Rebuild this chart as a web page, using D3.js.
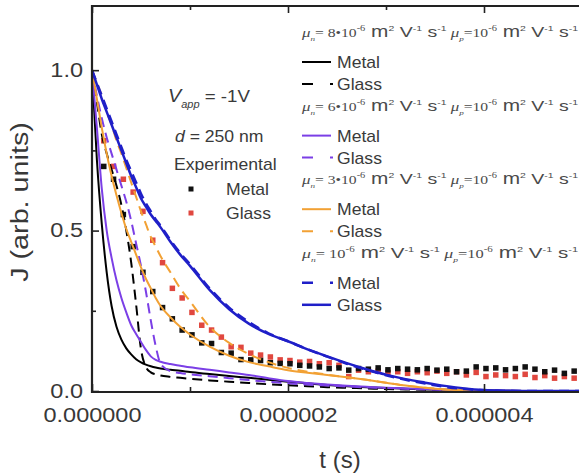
<!DOCTYPE html>
<html>
<head>
<meta charset="utf-8">
<script src="https://cdn.jsdelivr.net/npm/d3@7"></script>
<style>
  html, body { margin: 0; padding: 0; background: #fff; }
  svg { display: block; }
</style>
</head>
<body>
<svg id="chart" width="579" height="474"></svg>
<script>
// Time grid of the simulated transients (µs)
const tModel = [0, 0.05, 0.1, 0.15, 0.2, 0.25, 0.3, 0.35, 0.4, 0.45, 0.5, 0.55, 0.6, 0.65, 0.7, 0.8, 0.9, 1.0,
  1.2, 1.4, 1.6, 1.8, 2.0, 2.2, 2.4, 2.6, 2.8, 3.0, 3.2, 3.4, 3.6, 3.8, 4.0, 4.2, 4.5, 5.0];

// µn = 8e-6
const jMetal8 = [1.0, 0.72, 0.52, 0.37, 0.265, 0.2, 0.16, 0.133, 0.114, 0.099, 0.089, 0.082, 0.077, 0.073, 0.07, 0.066, 0.063, 0.059,
  0.053, 0.047, 0.041, 0.035, 0.029, 0.024, 0.019, 0.015, 0.012, 0.009, 0.007, 0.005, 0.004, 0.003, 0.002, 0.001, 0, 0];
const jGlass8 = [1.0, 0.9, 0.8, 0.74, 0.69, 0.64, 0.58, 0.5, 0.4, 0.27, 0.13, 0.075, 0.058, 0.052, 0.048, 0.044, 0.041, 0.038,
  0.033, 0.029, 0.025, 0.021, 0.018, 0.015, 0.012, 0.01, 0.008, 0.006, 0.005, 0.004, 0.003, 0.002, 0.001, 0, 0, 0];
// µn = 6e-6
const jMetal6 = [1.0, 0.82, 0.63, 0.5, 0.415, 0.345, 0.29, 0.245, 0.205, 0.178, 0.153, 0.128, 0.108, 0.097, 0.091, 0.084, 0.079, 0.074,
  0.066, 0.058, 0.05, 0.04, 0.031, 0.025, 0.02, 0.016, 0.013, 0.01, 0.008, 0.006, 0.004, 0.003, 0.002, 0.001, 0, 0];
const jGlass6 = [1.0, 0.92, 0.85, 0.79, 0.74, 0.69, 0.64, 0.59, 0.53, 0.46, 0.39, 0.31, 0.22, 0.14, 0.085, 0.062, 0.056, 0.052,
  0.046, 0.04, 0.034, 0.029, 0.024, 0.02, 0.017, 0.014, 0.011, 0.009, 0.007, 0.005, 0.004, 0.003, 0.002, 0.001, 0, 0];
// µn = 3e-6
const jMetal3 = [1.0, 0.91, 0.82, 0.74, 0.67, 0.61, 0.555, 0.505, 0.465, 0.425, 0.385, 0.35, 0.32, 0.29, 0.265, 0.23, 0.2, 0.176,
  0.138, 0.11, 0.09, 0.077, 0.065, 0.057, 0.05, 0.043, 0.035, 0.026, 0.017, 0.01, 0.005, 0.002, 0.001, 0, 0, 0];
const jGlass3 = [1.0, 0.96, 0.92, 0.87, 0.83, 0.78, 0.74, 0.695, 0.65, 0.605, 0.56, 0.52, 0.48, 0.45, 0.42, 0.37, 0.32, 0.28,
  0.2, 0.15, 0.115, 0.09, 0.072, 0.06, 0.051, 0.043, 0.035, 0.026, 0.017, 0.01, 0.005, 0.002, 0.001, 0, 0, 0];
// µn = 10^-6
const jMetal1 = [1.0, 0.96, 0.92, 0.88, 0.84, 0.8, 0.76, 0.72, 0.685, 0.65, 0.615, 0.585, 0.56, 0.535, 0.515, 0.47, 0.43, 0.395,
  0.32, 0.26, 0.215, 0.18, 0.155, 0.13, 0.107, 0.085, 0.066, 0.049, 0.035, 0.023, 0.013, 0.006, 0.002, 0, 0, 0];
const jGlass1 = [1.0, 0.955, 0.91, 0.87, 0.83, 0.79, 0.75, 0.71, 0.67, 0.635, 0.6, 0.575, 0.55, 0.53, 0.51, 0.465, 0.425, 0.39,
  0.315, 0.255, 0.21, 0.178, 0.155, 0.13, 0.108, 0.087, 0.068, 0.051, 0.037, 0.026, 0.016, 0.008, 0.003, 0.001, 0, 0];

// Measured transients (µs)
const tExp = [0.12, 0.22, 0.32, 0.42, 0.52, 0.62, 0.72, 0.82, 0.92, 1.02, 1.12, 1.22, 1.32, 1.42, 1.52, 1.62, 1.72, 1.82, 1.92,
  2.02, 2.12, 2.22, 2.32, 2.42, 2.52, 2.62, 2.72, 2.82, 2.92, 3.02, 3.12, 3.22, 3.32, 3.42, 3.52, 3.62, 3.72, 3.82, 3.92,
  4.02, 4.12, 4.22, 4.32, 4.42, 4.52, 4.62, 4.72, 4.82, 4.92];
const jExpMetal = [0.70, 0.66, 0.55, 0.45, 0.37, 0.31, 0.26, 0.225, 0.19, 0.175, 0.15, 0.148, 0.12, 0.118, 0.098, 0.097, 0.095, 0.088, 0.086,
  0.085, 0.08, 0.078, 0.075, 0.07, 0.072, 0.065, 0.07, 0.068, 0.072, 0.066, 0.07, 0.068, 0.066, 0.07, 0.065, 0.068, 0.06, 0.062, 0.075,
  0.07, 0.072, 0.066, 0.07, 0.075, 0.068, 0.06, 0.065, 0.055, 0.062];
const jExpGlass = [0.78, 0.70, 0.66, 0.62, 0.56, 0.47, 0.40, 0.32, 0.29, 0.245, 0.205, 0.19, 0.168, 0.138, 0.136, 0.118, 0.112, 0.106, 0.097,
  0.095, 0.09, 0.092, 0.085, 0.088, 0.08, 0.045, 0.065, 0.06, 0.062, 0.058, 0.06, 0.055, 0.06, 0.057, 0.062, 0.055, 0.06, 0.05, 0.058,
  0.045, 0.05, 0.048, 0.045, 0.052, 0.042, 0.048, 0.04, 0.045, 0.04];

const xMajor = [0, 2, 4];
const xMinor = [1, 3, 5];
const yMajor = [0, 0.5, 1.0];
const yMinor = [0.25, 0.75];

const colors = { c8: "#000000", c6: "#7b3fe6", c3: "#f2a134", c1: "#1f1fc8" };

const series = [
  { j: jMetal8, color: colors.c8, dash: null, w: 2 },
  { j: jGlass8, color: colors.c8, dash: "10,6", w: 2 },
  { j: jMetal6, color: colors.c6, dash: null, w: 2 },
  { j: jGlass6, color: colors.c6, dash: "10,6", w: 2 },
  { j: jMetal3, color: colors.c3, dash: null, w: 2 },
  { j: jGlass3, color: colors.c3, dash: "10,6", w: 2 },
  { j: jMetal1, color: colors.c1, dash: "10,6", w: 2.5 },
  { j: jGlass1, color: colors.c1, dash: null, w: 2.5 }
];

const legendGroups = [
  { n: "8•10", nExp: "-6", color: colors.c8, metalDashed: false },
  { n: "6•10", nExp: "-6", color: colors.c6, metalDashed: false },
  { n: "3•10", nExp: "-6", color: colors.c3, metalDashed: false },
  { n: "10", nExp: "-6", color: colors.c1, metalDashed: true }
];

const svg = d3.select("#chart");
const L = 92, R = 582, T = 6, B = 391;
const x = d3.scaleLinear().domain([0, 5]).range([L, R]);
const y = d3.scaleLinear().domain([0, 1.2]).range([B, T]);

const SANS = "'Liberation Sans', Arial, sans-serif";
const SERIF = "'Liberation Serif', 'Times New Roman', serif";

svg.append("rect").attr("width", 579).attr("height", 474).attr("fill", "#fff");

svg.append("defs").append("clipPath").attr("id", "plotclip")
  .append("rect").attr("x", L).attr("y", T).attr("width", R - L).attr("height", B - T + 2);

const plot = svg.append("g").attr("clip-path", "url(#plotclip)");

// experimental points
const sq = 5.5;
plot.append("g").selectAll("rect").data(tExp.map((t, i) => [t, jExpGlass[i]])).join("rect")
  .attr("x", d => x(d[0]) - sq / 2).attr("y", d => y(d[1]) - sq / 2)
  .attr("width", sq).attr("height", sq).attr("fill", "#e0473f");
plot.append("g").selectAll("rect").data(tExp.map((t, i) => [t, jExpMetal[i]])).join("rect")
  .attr("x", d => x(d[0]) - sq / 2).attr("y", d => y(d[1]) - sq / 2)
  .attr("width", sq).attr("height", sq).attr("fill", "#111");

// simulated curves
const line = d3.line().x(d => x(d[0])).y(d => y(d[1])).curve(d3.curveMonotoneX);
series.forEach(s => {
  plot.append("path")
    .attr("d", line(tModel.map((t, i) => [t, s.j[i]])))
    .attr("fill", "none").attr("stroke", s.color).attr("stroke-width", s.w)
    .attr("stroke-dasharray", s.dash);
});

// axes (ticks pointing inward, mirrored on top)
const axColor = "#222";
function styleAxis(g) {
  g.select(".domain").remove();
  g.selectAll(".tick line").attr("stroke", axColor).attr("stroke-width", 1.6);
}
const fmtX = d => (d * 1e-6).toFixed(6);

const xAxis = svg.append("g").attr("transform", `translate(0,${B})`)
  .call(d3.axisBottom(x).tickValues(xMajor).tickSize(-7).tickPadding(0).tickFormat(fmtX));
styleAxis(xAxis);
xAxis.selectAll(".tick text").attr("font-family", SANS).attr("font-size", 21).attr("fill", "#383838")
  .attr("y", 0).attr("dy", 0)
  .attr("transform", "translate(0,31) scale(1.12,1)");
svg.append("g").attr("transform", `translate(0,${B})`)
  .call(d3.axisBottom(x).tickValues(xMinor).tickSize(-4).tickFormat(""))
  .call(styleAxis);
svg.append("g").attr("transform", `translate(0,${T})`)
  .call(d3.axisTop(x).tickValues(xMajor).tickSize(-7).tickFormat(""))
  .call(styleAxis);
svg.append("g").attr("transform", `translate(0,${T})`)
  .call(d3.axisTop(x).tickValues(xMinor).tickSize(-4).tickFormat(""))
  .call(styleAxis);

const yAxis = svg.append("g").attr("transform", `translate(${L},0)`)
  .call(d3.axisLeft(y).tickValues(yMajor).tickSize(-7).tickPadding(0).tickFormat(d3.format(".1f")));
styleAxis(yAxis);
yAxis.selectAll(".tick text").attr("font-family", SANS).attr("font-size", 21).attr("fill", "#383838")
  .attr("x", 0).attr("dy", 0).attr("text-anchor", "end")
  .attr("transform", "translate(-9,6) scale(1.12,1)");
svg.append("g").attr("transform", `translate(${L},0)`)
  .call(d3.axisLeft(y).tickValues(yMinor).tickSize(-4).tickFormat(""))
  .call(styleAxis);

// frame
svg.append("path")
  .attr("d", `M${R},${T}H${L}V${B + 1}H${R}`)
  .attr("fill", "none").attr("stroke", axColor).attr("stroke-width", 2.2);

// axis titles
svg.append("text").attr("font-family", SANS).attr("font-size", 24).attr("fill", "#383838")
  .attr("text-anchor", "middle")
  .attr("transform", "translate(340,468)").text("t (s)");
svg.append("text").attr("font-family", SANS).attr("font-size", 23).attr("fill", "#383838")
  .attr("text-anchor", "middle")
  .attr("transform", "translate(28,202) rotate(-90) scale(1.25,1)").text("J (arb. units)");

// helper: stretched text
function label(x0, y0, str, size, sx, opts = {}) {
  return svg.append("text").attr("font-family", opts.family || SANS).attr("font-size", size)
    .attr("fill", opts.fill || "#3a3a3a").attr("font-style", opts.italic ? "italic" : null)
    .attr("text-anchor", opts.anchor || "start")
    .attr("transform", `translate(${x0},${y0}) scale(${sx},1)`).text(str);
}

// conditions block
const vt = svg.append("text").attr("font-family", SANS).attr("fill", "#3a3a3a")
  .attr("transform", "translate(168,102) scale(1.1,1)");
vt.append("tspan").attr("font-size", 18).attr("font-style", "italic").text("V");
vt.append("tspan").attr("font-size", 10).attr("font-style", "italic").attr("dy", 6).text("app");
vt.append("tspan").attr("font-size", 17).attr("dy", -6).text(" = -1V");

const dt = svg.append("text").attr("font-family", SANS).attr("fill", "#3a3a3a").attr("font-size", 16)
  .attr("transform", "translate(175,142) scale(1.1,1)");
dt.append("tspan").attr("font-style", "italic").text("d");
dt.append("tspan").text(" = 250 nm");

label(174, 170, "Experimental", 16, 1.1);
svg.append("rect").attr("x", 191 - 2.5).attr("y", 189 - 2.5).attr("width", 5).attr("height", 5).attr("fill", "#111");
label(226, 195, "Metal", 16, 1.1);
svg.append("rect").attr("x", 191 - 2.5).attr("y", 213 - 2.5).attr("width", 5).attr("height", 5).attr("fill", "#e0473f");
label(226, 219, "Glass", 16, 1.1);

// mobility legend
function muLine(y0, g) {
  const t = svg.append("text").attr("x", 302).attr("y", y0).attr("fill", "#4a4a4a")
    .attr("textLength", 276).attr("lengthAdjust", "spacingAndGlyphs");
  const part = (s, size, fam, dy, italic) => t.append("tspan").attr("font-size", size)
    .attr("font-family", fam).attr("dy", dy).attr("font-style", italic ? "italic" : null).text(s);
  part("μ", 13, SERIF, 0, true);
  part("n", 7, SERIF, 4, true);
  part("= " + g.n, 12, SERIF, -4);
  part(g.nExp, 8, SERIF, -6);
  part(" m", 16, SANS, 6);
  part("2", 8, SANS, -6);
  part(" V", 15, SANS, 6);
  part("-1", 8, SANS, -6);
  part(" s", 15, SANS, 6);
  part("-1", 8, SANS, -6);
  part(" μ", 13, SERIF, 6, true);
  part("p", 7, SERIF, 4, true);
  part("=10", 12, SERIF, -4);
  part("-6", 8, SERIF, -6);
  part(" m", 16, SANS, 6);
  part("2", 8, SANS, -6);
  part(" V", 15, SANS, 6);
  part("-1", 8, SANS, -6);
  part(" s", 15, SANS, 6);
  part("-1", 8, SANS, -6);
}

legendGroups.forEach((g, i) => {
  const y0 = 37 + 73.6 * i;
  muLine(y0, g);
  const rows = [
    { name: "Metal", dashed: g.metalDashed, yy: y0 + 31 },
    { name: "Glass", dashed: !g.metalDashed, yy: y0 + 53 }
  ];
  rows.forEach(r => {
    svg.append("line").attr("x1", 302).attr("x2", r.dashed ? 333 : 331)
      .attr("y1", r.yy - 6).attr("y2", r.yy - 6)
      .attr("stroke", g.color).attr("stroke-width", g.color === colors.c1 ? 2.5 : 2)
      .attr("stroke-dasharray", r.dashed ? "11,17" : null);
    label(337, r.yy, r.name, 16, 1.1);
  });
});
</script>
</body>
</html>
